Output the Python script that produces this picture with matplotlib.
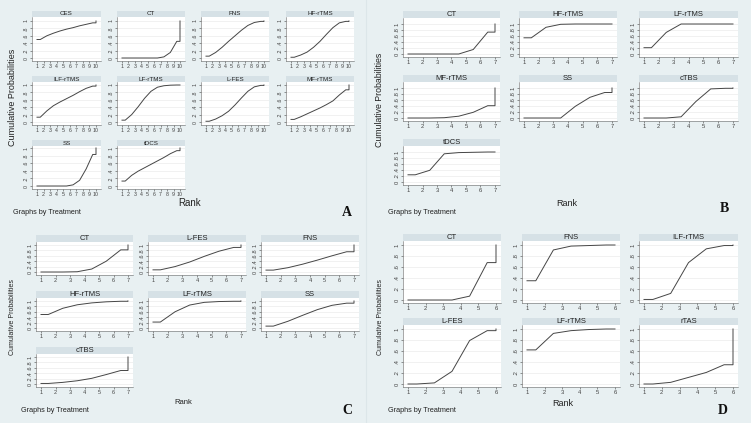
import numpy as np
import matplotlib as mpl
mpl.use('Agg')
import matplotlib.pyplot as plt

W, H = 751, 423
BG = '#e8f0f2'
STRIP = '#d6e1e6'
LINE = '#454545'
plt.rcParams['font.family'] = ['Liberation Sans', 'DejaVu Sans']

# cumulative rank probabilities, one list per treatment (rank 1..N)
a_names = ['CES', 'CT', 'FNS', 'HF-rTMS', 'ILF-rTMS', 'LF-rTMS', 'L-FES', 'MF-rTMS', 'SS', 'tDCS']
a_cum = [
    [0.50, 0.60, 0.67, 0.73, 0.78, 0.82, 0.87, 0.91, 0.95, 1.0],
    [0.0, 0.0, 0.0, 0.0, 0.0, 0.0, 0.03, 0.15, 0.45, 1.0],
    [0.05, 0.15, 0.29, 0.45, 0.60, 0.75, 0.88, 0.96, 0.99, 1.0],
    [0.02, 0.08, 0.16, 0.29, 0.45, 0.64, 0.82, 0.95, 0.99, 1.0],
    [0.13, 0.30, 0.44, 0.54, 0.63, 0.72, 0.82, 0.91, 0.97, 1.0],
    [0.05, 0.20, 0.41, 0.64, 0.83, 0.94, 0.98, 0.995, 1.0, 1.0],
    [0.02, 0.08, 0.17, 0.29, 0.46, 0.65, 0.83, 0.95, 0.99, 1.0],
    [0.07, 0.14, 0.22, 0.30, 0.38, 0.47, 0.57, 0.73, 0.87, 1.0],
    [0.0, 0.0, 0.0, 0.0, 0.0, 0.03, 0.15, 0.45, 0.83, 1.0],
    [0.13, 0.28, 0.39, 0.48, 0.57, 0.66, 0.75, 0.85, 0.93, 1.0],
]
b_names = ['CT', 'HF-rTMS', 'LF-rTMS', 'MF-rTMS', 'SS', 'cTBS', 'tDCS']
b_cum = [
    [0.0, 0.0, 0.0, 0.0, 0.15, 0.73, 1.0],
    [0.54, 0.89, 0.99, 1.0, 1.0, 1.0, 1.0],
    [0.21, 0.72, 1.0, 1.0, 1.0, 1.0, 1.0],
    [0.0, 0.0, 0.01, 0.06, 0.19, 0.41, 1.0],
    [0.0, 0.0, 0.0, 0.39, 0.69, 0.85, 1.0],
    [0.0, 0.0, 0.04, 0.55, 0.97, 0.99, 1.0],
    [0.24, 0.39, 0.94, 0.98, 0.99, 1.0, 1.0],
]
c_names = ['CT', 'L-FES', 'FNS', 'HF-rTMS', 'LF-rTMS', 'SS', 'cTBS']
c_cum = [
    [0.0, 0.0, 0.01, 0.11, 0.40, 0.82, 1.0],
    [0.08, 0.20, 0.37, 0.58, 0.77, 0.91, 1.0],
    [0.07, 0.16, 0.29, 0.44, 0.60, 0.75, 1.0],
    [0.50, 0.73, 0.86, 0.93, 0.97, 0.99, 1.0],
    [0.22, 0.60, 0.85, 0.95, 0.98, 0.99, 1.0],
    [0.07, 0.25, 0.47, 0.68, 0.84, 0.92, 1.0],
    [0.02, 0.06, 0.12, 0.21, 0.35, 0.50, 1.0],
]
d_names = ['CT', 'FNS', 'ILF-rTMS', 'L-FES', 'LF-rTMS', 'rTAS']
d_cum = [
    [0.0, 0.0, 0.0, 0.07, 0.68, 1.0],
    [0.35, 0.91, 0.98, 0.99, 1.0, 1.0],
    [0.01, 0.12, 0.68, 0.93, 0.99, 1.0],
    [0.0, 0.02, 0.23, 0.79, 0.97, 1.0],
    [0.62, 0.92, 0.97, 0.99, 1.0, 1.0],
    [0.0, 0.03, 0.12, 0.21, 0.35, 1.0],
]
ytick_vals = [0, 0.2, 0.4, 0.6, 0.8, 1]
ytick_labels = ['0', '.2', '.4', '.6', '.8', '1']


def px_axes(fig, l, t, r, b):
    return fig.add_axes([l / W, 1 - b / H, (r - l) / W, (b - t) / H])


def step_xy(cum):
    # stata style: value of rank k drawn at k+0.5, held flat at both ends
    n = len(cum)
    x = np.concatenate([[1], np.arange(1, n) + 0.5, [n, n]])
    y = np.concatenate([[cum[0]], cum[:-1], [cum[-2], cum[-1]]])
    return x, y


def draw_panel(fig, names, cum, cols, rows, strip_h, title_fs, tick_fs):
    n = len(cum[0])
    for i, (name, vals) in enumerate(zip(names, cum)):
        l, r = cols[i % len(cols)]
        st, y1, y0 = rows[i // len(cols)]
        top = st + strip_h
        bot = y0 + 3
        sax = px_axes(fig, l, st, r, top)
        sax.set_facecolor(STRIP)
        sax.set_xticks([])
        sax.set_yticks([])
        for s in sax.spines.values():
            s.set_visible(False)
        sax.text(0.5, 0.5, name, ha='center', va='center', fontsize=title_fs,
                 color='#222222', transform=sax.transAxes)

        ax = px_axes(fig, l, top, r, bot)
        ax.set_facecolor('white')
        scale = float(y0 - y1)
        ax.set_ylim(-(bot - y0) / scale, 1 + (y1 - top) / scale)
        xs = (n - 1) / float((r - l) - 10)
        ax.set_xlim(1 - 5 * xs, n + 5 * xs)
        x, y = step_xy(vals)
        ax.plot(x, y, color=LINE, lw=0.7)
        ax.set_xticks(range(1, n + 1))
        ax.set_xticklabels([str(k) for k in range(1, n + 1)])
        ax.set_yticks(ytick_vals)
        ax.set_yticklabels(ytick_labels)
        ax.yaxis.grid(True, color='#e6e6e6', lw=0.4)
        ax.set_axisbelow(True)
        ax.tick_params(axis='both', labelsize=tick_fs, length=1.5, width=0.4,
                       pad=1, colors='#444444')
        ax.tick_params(axis='y', labelrotation=90)
        for t in ax.get_yticklabels():
            t.set_va('center')
        for s in ['top', 'right']:
            ax.spines[s].set_visible(False)
        for s in ['left', 'bottom']:
            ax.spines[s].set_linewidth(0.4)
            ax.spines[s].set_color('#666666')


fig = plt.figure(figsize=(W / 100, H / 100), dpi=100)
fig.patch.set_facecolor(BG)

line_ax = fig.add_axes([0, 0, 1, 1])
line_ax.set_xlim(0, W)
line_ax.set_ylim(H, 0)
line_ax.axis('off')
line_ax.plot([366, 366], [0, H], color='#dce6e9', lw=0.8)

# panel A
draw_panel(fig, a_names, a_cum,
           cols=[(32, 101), (117, 185), (201, 269), (286, 354)],
           rows=[(11, 21, 58), (76, 85, 122), (140, 148, 186)],
           strip_h=6, title_fs=4.5, tick_fs=3.8)
# panel B
draw_panel(fig, b_names, b_cum,
           cols=[(403, 500), (519, 617), (639, 738)],
           rows=[(11, 24, 54), (75, 88, 118), (139, 152, 182)],
           strip_h=7, title_fs=5.5, tick_fs=4.2)
# panel C
draw_panel(fig, c_names, c_cum,
           cols=[(36, 133), (148, 246), (261, 359)],
           rows=[(235, 245, 272), (291, 301, 328), (347, 357, 384)],
           strip_h=7, title_fs=5.5, tick_fs=4.0)
# panel D
draw_panel(fig, d_names, d_cum,
           cols=[(403, 501), (522, 620), (639, 738)],
           rows=[(234, 245, 300), (318, 329, 384)],
           strip_h=7, title_fs=5.5, tick_fs=4.2)

labels = [
    # (x, y, ylabel pos, rank pos, graphs-by pos, letter pos, sizes)
    dict(yl=(13, 97), rk=(190, 203), gb=(13, 212), lt=(347, 213), ylfs=6.5, rkfs=7),
    dict(yl=(380, 100), rk=(567, 204), gb=(388, 212), lt=(724, 208), ylfs=6.3, rkfs=6.5),
    dict(yl=(13, 317), rk=(183, 403), gb=(21, 411), lt=(347, 411), ylfs=5.0, rkfs=5.5),
    dict(yl=(380, 317), rk=(563, 403), gb=(388, 410), lt=(723, 410), ylfs=5.0, rkfs=6.5),
]
letters = ['A', 'B', 'C', 'D']
for lab, letter in zip(labels, letters):
    line_ax.text(lab['yl'][0], lab['yl'][1], 'Cumulative Probabilities', rotation=90,
                 ha='center', va='center', fontsize=lab['ylfs'], color='#222222')
    line_ax.text(lab['rk'][0], lab['rk'][1], 'Rank', ha='center', va='center',
                 fontsize=lab['rkfs'], color='#222222')
    line_ax.text(lab['gb'][0], lab['gb'][1], 'Graphs by Treatment', ha='left', va='center',
                 fontsize=5.2, color='#222222')
    line_ax.text(lab['lt'][0], lab['lt'][1], letter, ha='center', va='center',
                 fontsize=10, fontweight='bold', family='Liberation Serif', color='#111111')

fig.savefig('out.png', dpi=100, facecolor=BG)
